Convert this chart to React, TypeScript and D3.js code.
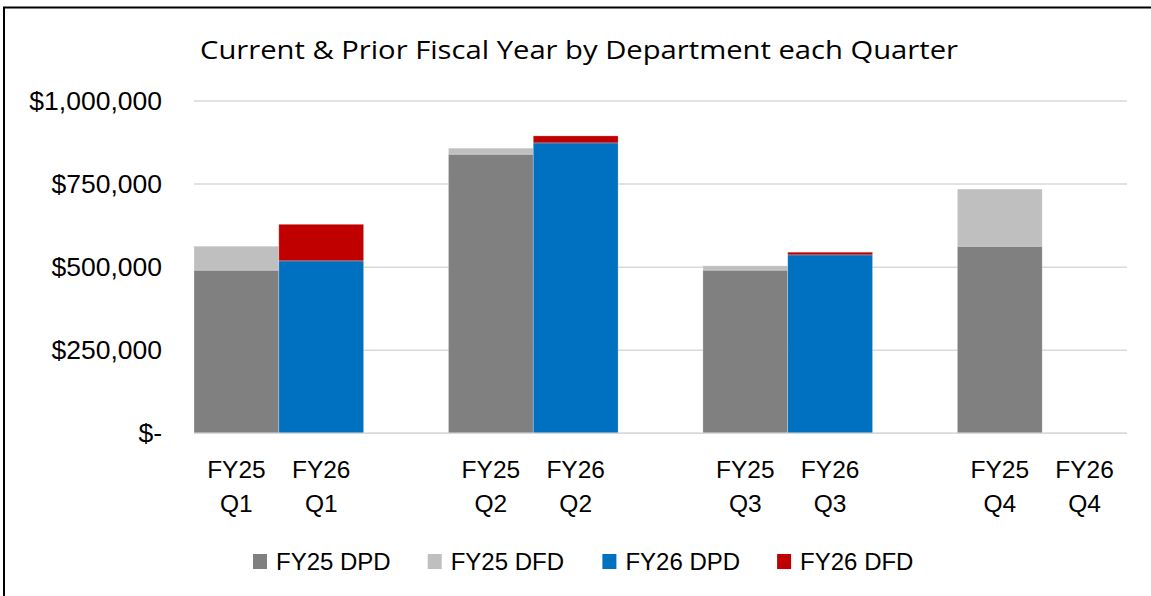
import * as d3 from "d3";

const quarters = ["Q1", "Q2", "Q3", "Q4"];
const fy25Dpd = [491000, 840000, 491000, 563000];
const fy25Dfd = [72000, 18000, 13000, 172000];
const fy26Dpd = [519000, 874000, 537000, 0];
const fy26Dfd = [110000, 21000, 8000, 0];
const yTicks = [0, 250000, 500000, 750000, 1000000];
const legendItems = ["FY25 DPD", "FY25 DFD", "FY26 DPD", "FY26 DFD"];

const COLORS: Record<string, string> = {
  "FY25 DPD": "#808080",
  "FY25 DFD": "#bfbfbf",
  "FY26 DPD": "#0070c0",
  "FY26 DFD": "#c00000",
};

const WIDTH = 1151;
const HEIGHT = 596;
const FONT = "'Liberation Sans', Arial, sans-serif";

type Slot = { key: string; year?: string; quarter?: string; dpd?: number; dfd?: number };

// two bars per quarter, with an empty slot between quarters
const slots: Slot[] = [];
quarters.forEach((quarter, i) => {
  slots.push({ key: `FY25 ${quarter}`, year: "FY25", quarter, dpd: fy25Dpd[i], dfd: fy25Dfd[i] });
  slots.push({ key: `FY26 ${quarter}`, year: "FY26", quarter, dpd: fy26Dpd[i], dfd: fy26Dfd[i] });
  if (i < quarters.length - 1) slots.push({ key: `gap-${i}` });
});

function formatMoney(value: number) {
  return value === 0 ? "$-" : `$${d3.format(",")(value)}`;
}

export default function App() {
  const margin = { left: 194, right: 24, top: 101, bottom: 162.7 };
  const x = d3
    .scaleBand()
    .domain(slots.map((s) => s.key))
    .range([margin.left, WIDTH - margin.right])
    .paddingInner(0)
    .paddingOuter(0);
  const y = d3.scaleLinear().domain([0, 1000000]).range([HEIGHT - margin.bottom, margin.top]);

  const bars = slots.filter((s) => s.year);

  return (
    <svg
      width={WIDTH}
      height={HEIGHT}
      style={{ position: "absolute", left: 0, top: 0, display: "block", background: "#fff" }}
      fontFamily={FONT}
    >
      <rect x={0} y={0} width={WIDTH} height={HEIGHT} fill="#fff" />
      <rect x={4} y={7.5} width={WIDTH + 20} height={HEIGHT + 20} fill="none" stroke="#000" strokeWidth={2} />

      <text
        x={200}
        y={59}
        fontFamily="'Open Sans', sans-serif"
        fontSize={25}
        fill="#000"
        textLength={758}
        lengthAdjust="spacingAndGlyphs"
      >
        Current &amp; Prior Fiscal Year by Department each Quarter
      </text>

      {yTicks.map((t) => (
        <g key={t}>
          <line x1={x.range()[0]} x2={x.range()[1]} y1={y(t)} y2={y(t)} stroke="#d9d9d9" strokeWidth={1.5} />
          <text x={162} y={y(t) + 9} textAnchor="end" fontSize={26.5} fill="#000">
            {formatMoney(t)}
          </text>
        </g>
      ))}

      {bars.map((s) => {
        const x0 = x(s.key) ?? 0;
        const bw = x.bandwidth();
        const dpd = s.dpd ?? 0;
        const dfd = s.dfd ?? 0;
        return (
          <g key={s.key}>
            {dpd > 0 && (
              <rect
                x={x0}
                y={y(dpd)}
                width={bw}
                height={y(0) - y(dpd)}
                fill={COLORS[`${s.year} DPD`]}
                stroke="#fff"
                strokeOpacity={0.35}
                strokeWidth={0.75}
              />
            )}
            {dfd > 0 && (
              <rect
                x={x0}
                y={y(dpd + dfd)}
                width={bw}
                height={y(dpd) - y(dpd + dfd)}
                fill={COLORS[`${s.year} DFD`]}
                stroke="#fff"
                strokeOpacity={0.35}
                strokeWidth={0.75}
              />
            )}
          </g>
        );
      })}

      <line x1={x.range()[0]} x2={x.range()[1]} y1={y(0)} y2={y(0)} stroke="#d9d9d9" strokeWidth={1.5} />

      {bars.map((s) => {
        const cx = (x(s.key) ?? 0) + x.bandwidth() / 2;
        return (
          <text key={s.key} x={cx} textAnchor="middle" fontSize={24.5} fill="#000">
            <tspan x={cx} y={478}>
              {s.year}
            </tspan>
            <tspan x={cx} y={511.5}>
              {s.quarter}
            </tspan>
          </text>
        );
      })}

      {legendItems.map((name, i) => {
        const lx = 253 + i * 174.7;
        return (
          <g key={name}>
            <rect x={lx} y={554} width={14} height={15} fill={COLORS[name]} />
            <text x={lx + 23} y={570} fontSize={24} fill="#000">
              {name}
            </text>
          </g>
        );
      })}
    </svg>
  );
}
